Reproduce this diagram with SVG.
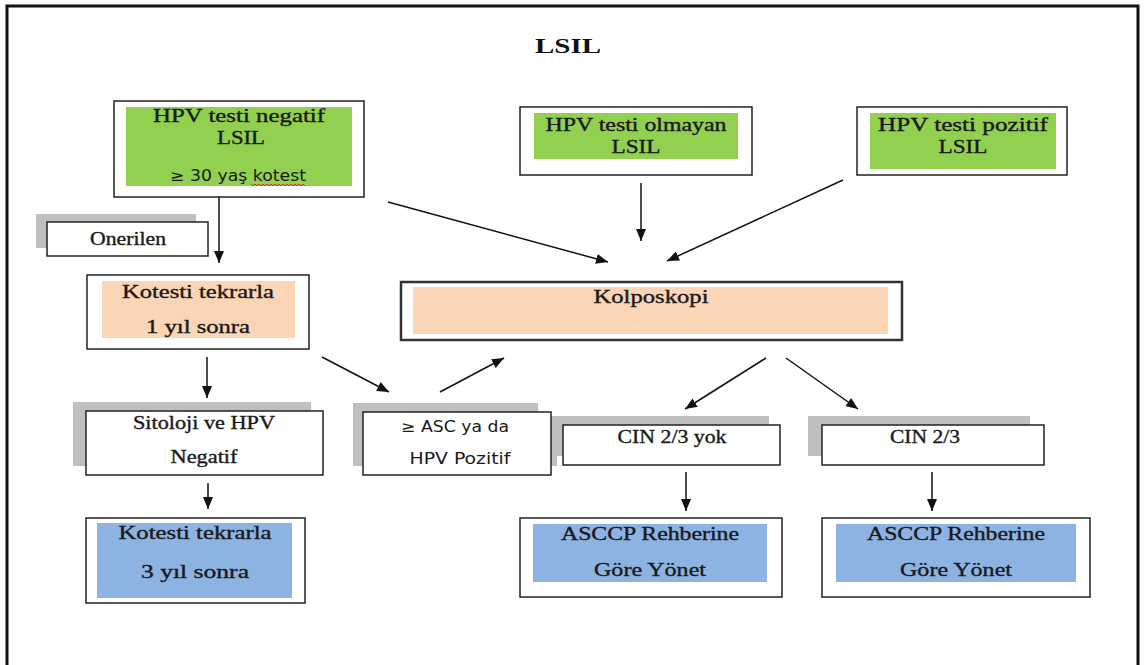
<svg xmlns="http://www.w3.org/2000/svg" width="1144" height="665" viewBox="0 0 1144 665">
  <style>
    .frame { fill: #fff; stroke: #111; stroke-width: 3; }
    .box { fill: #fff; stroke: #222; stroke-width: 1.5; }
    .shadow { fill: #bfbfbf; }
    .green { fill: #92d050; }
    .peach { fill: #fbd5b5; }
    .blue { fill: #8db3e2; }
    .t { font-family: "Liberation Serif", "Times New Roman", serif; font-size: 18px; fill: #1a1a1a; stroke: #1a1a1a; stroke-width: 0.35; text-anchor: middle; }
    .s { font-family: "DejaVu Sans", "Liberation Sans", sans-serif; font-size: 15px; fill: #1a1a1a; text-anchor: middle; }
    .title { font-family: "Liberation Serif", "Times New Roman", serif; font-size: 21px; font-weight: bold; fill: #111; text-anchor: middle; }
    .conn line { stroke: #111; stroke-width: 1.5; }
  </style>
  <defs>
    <marker id="arrow" markerUnits="userSpaceOnUse" markerWidth="13" markerHeight="10" refX="12" refY="5" orient="auto">
      <path d="M0,0 L12,5 L0,10 z" fill="#111"/>
    </marker>
  </defs>

  <!-- page frame -->
  <rect class="frame" x="7" y="6" width="1131" height="700"/>
  <text class="title" x="568" y="53" textLength="66" lengthAdjust="spacingAndGlyphs">LSIL</text>

  <g id="hpv-negatif">
    <rect class="box" x="114" y="101" width="250" height="96"/>
    <rect class="green" x="126" y="107" width="226" height="79"/>
    <text class="t" x="239" y="122" textLength="172" lengthAdjust="spacingAndGlyphs">HPV testi negatif</text>
    <text class="t" x="241" y="144" textLength="48" lengthAdjust="spacingAndGlyphs">LSIL</text>
    <text class="s" x="238" y="181" textLength="136" lengthAdjust="spacingAndGlyphs">≥ 30 yaş kotest</text>
    <polyline points="251,184 253,186 255,184 257,186 259,184 261,186 263,184 265,186 267,184 269,186 271,184 273,186 275,184 277,186 279,184 281,186 283,184 285,186 287,184 289,186 291,184 293,186 295,184 297,186 299,184 301,186 303,184 305,186" fill="none" stroke="#e02020" stroke-width="1"/>
  </g>

  <g id="hpv-olmayan">
    <rect class="box" x="520" y="107" width="232" height="68"/>
    <rect class="green" x="534" y="113" width="204" height="46"/>
    <text class="t" x="636" y="131" textLength="181" lengthAdjust="spacingAndGlyphs">HPV testi olmayan</text>
    <text class="t" x="636" y="153" textLength="49" lengthAdjust="spacingAndGlyphs">LSIL</text>
  </g>

  <g id="hpv-pozitif">
    <rect class="box" x="857" y="107" width="210" height="68"/>
    <rect class="green" x="870" y="113" width="186" height="56"/>
    <text class="t" x="963" y="131" textLength="170" lengthAdjust="spacingAndGlyphs">HPV testi pozitif</text>
    <text class="t" x="963" y="153" textLength="49" lengthAdjust="spacingAndGlyphs">LSIL</text>
  </g>

  <g id="onerilen">
    <rect class="shadow" x="36" y="214" width="160" height="34"/>
    <rect class="box" x="47" y="222" width="161" height="34"/>
    <text class="t" x="128" y="245" textLength="76" lengthAdjust="spacingAndGlyphs">Onerilen</text>
  </g>

  <g id="kotesti-1-yil">
    <rect class="box" x="87" y="275" width="222" height="74"/>
    <rect class="peach" x="102" y="281" width="193" height="57"/>
    <text class="t" x="198" y="298" textLength="152" lengthAdjust="spacingAndGlyphs">Kotesti tekrarla</text>
    <text class="t" x="198" y="333" textLength="104" lengthAdjust="spacingAndGlyphs">1 yıl sonra</text>
  </g>

  <g id="kolposkopi">
    <rect x="401" y="282" width="501" height="58" fill="#fff" stroke="#333" stroke-width="2.5"/>
    <rect class="peach" x="413" y="287" width="475" height="47"/>
    <text class="t" x="651" y="303" textLength="115" lengthAdjust="spacingAndGlyphs" stroke-width="0.7">Kolposkopi</text>
  </g>

  <g id="sitoloji-negatif">
    <rect class="shadow" x="73" y="402" width="238" height="64"/>
    <rect class="box" x="86" y="411" width="237" height="64"/>
    <text class="t" x="204" y="429" textLength="142" lengthAdjust="spacingAndGlyphs">Sitoloji ve HPV</text>
    <text class="t" x="204" y="463" textLength="67" lengthAdjust="spacingAndGlyphs">Negatif</text>
  </g>

  <g id="asc-hpv-pozitif">
    <path class="shadow" d="M353,403 H538 V417 H557 V466 H353 Z"/>
    <rect class="box" x="363" y="412" width="188" height="63"/>
    <text class="s" x="455" y="432" textLength="108" lengthAdjust="spacingAndGlyphs">≥ ASC ya da</text>
    <text class="s" x="460" y="464" textLength="101" lengthAdjust="spacingAndGlyphs">HPV Pozitif</text>
  </g>

  <g id="cin-yok">
    <rect class="shadow" x="552" y="416" width="217" height="40"/>
    <rect class="box" x="563" y="425" width="217" height="40"/>
    <text class="t" x="672" y="443" textLength="109" lengthAdjust="spacingAndGlyphs">CIN 2/3 yok</text>
  </g>

  <g id="cin-var">
    <rect class="shadow" x="808" y="416" width="222" height="40"/>
    <rect class="box" x="822" y="425" width="222" height="40"/>
    <text class="t" x="925" y="443" textLength="70" lengthAdjust="spacingAndGlyphs">CIN 2/3</text>
  </g>

  <g id="kotesti-3-yil">
    <rect class="box" x="86" y="518" width="219" height="85"/>
    <rect class="blue" x="97" y="523" width="195" height="75"/>
    <text class="t" x="195" y="539" textLength="153" lengthAdjust="spacingAndGlyphs">Kotesti tekrarla</text>
    <text class="t" x="195" y="578" textLength="108" lengthAdjust="spacingAndGlyphs">3 yıl sonra</text>
  </g>

  <g id="asccp-sol">
    <rect class="box" x="520" y="518" width="262" height="79"/>
    <rect class="blue" x="533" y="524" width="234" height="58"/>
    <text class="t" x="650" y="540" textLength="178" lengthAdjust="spacingAndGlyphs">ASCCP Rehberine</text>
    <text class="t" x="650" y="576" textLength="112" lengthAdjust="spacingAndGlyphs">Göre Yönet</text>
  </g>

  <g id="asccp-sag">
    <rect class="box" x="822" y="518" width="268" height="79"/>
    <rect class="blue" x="836" y="524" width="240" height="58"/>
    <text class="t" x="956" y="540" textLength="178" lengthAdjust="spacingAndGlyphs">ASCCP Rehberine</text>
    <text class="t" x="956" y="576" textLength="112" lengthAdjust="spacingAndGlyphs">Göre Yönet</text>
  </g>

  <g id="connectors" class="conn">
    <line x1="219" y1="197" x2="219" y2="263" marker-end="url(#arrow)"/>
    <line x1="388" y1="202" x2="608" y2="262" marker-end="url(#arrow)"/>
    <line x1="641" y1="183" x2="641" y2="241" marker-end="url(#arrow)"/>
    <line x1="843" y1="180" x2="667" y2="261" marker-end="url(#arrow)"/>
    <line x1="322" y1="357" x2="389" y2="392" marker-end="url(#arrow)"/>
    <line x1="440" y1="392" x2="504" y2="358" marker-end="url(#arrow)"/>
    <line x1="207" y1="357" x2="207" y2="398" marker-end="url(#arrow)"/>
    <line x1="766" y1="358" x2="685" y2="409" marker-end="url(#arrow)"/>
    <line x1="786" y1="358" x2="858" y2="409" marker-end="url(#arrow)"/>
    <line x1="208" y1="483" x2="208" y2="509" marker-end="url(#arrow)"/>
    <line x1="686" y1="472" x2="686" y2="511" marker-end="url(#arrow)"/>
    <line x1="932" y1="472" x2="932" y2="511" marker-end="url(#arrow)"/>
  </g>
</svg>
